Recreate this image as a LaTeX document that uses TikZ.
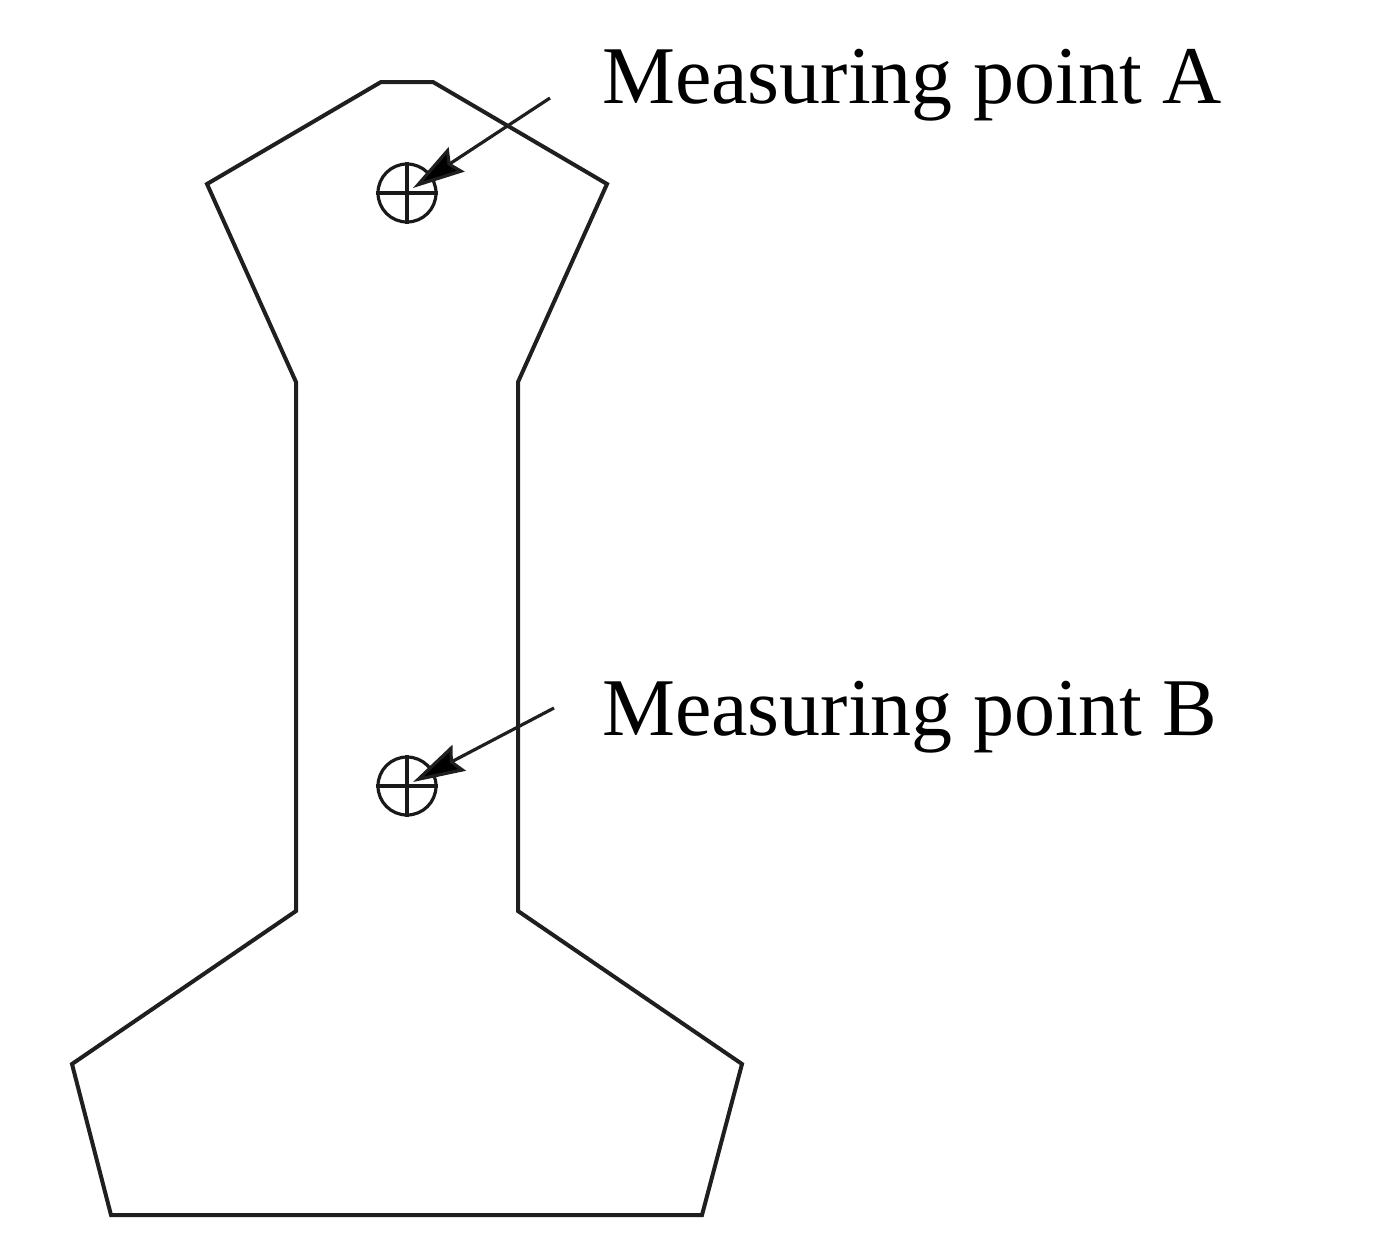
\documentclass[tikz,border=0pt]{standalone}
\usepackage{fontspec}
\usepackage{tikz}
\setmainfont{Liberation Serif}
\usetikzlibrary{arrows.meta, positioning, calc}

\tikzset{
  outline/.style={draw=black!88, line width=4pt, line join=miter},
  target/.style={draw=black!90, circle, line width=3.2pt, minimum size=58pt, inner sep=0pt},
  hair/.style={draw=black!90, line width=3.2pt},
  pointer/.style={draw=black!88, line width=3.2pt, -{Stealth[length=52pt, width=29pt, inset=7pt, fill=black]}},
  tag/.style={anchor=base west, inner sep=0pt, font=\fontsize{82}{90}\selectfont}
}

\begin{document}
\begin{tikzpicture}[x=1pt, y=-1pt]
\useasboundingbox (0,0) rectangle (1396,1248);
% Section outline
\draw[outline] (381,82) -- (433,82) -- (607,184) -- (518,382) -- (518,911) -- (742,1064) -- (702,1215) -- (111,1215) -- (72,1064) -- (296,911) -- (296,382) -- (207,184) -- cycle;

% Measuring points
\node[target] (ptA) at (407,193) {};
\node[target] (ptB) at (407,786) {};
\draw[hair] (ptA.north) -- (ptA.south);
\draw[hair] (ptA.west) -- (ptA.east);
\draw[hair] (ptB.north) -- (ptB.south);
\draw[hair] (ptB.west) -- (ptB.east);

% Labels
\node[tag] (labA) at (602,103) {Measuring point A};
\node[tag] (labB) at (602,735) {Measuring point B};
\coordinate (startA) at (550,98);
\coordinate (startB) at (554,708);
\coordinate (endA) at (413,188);
\coordinate (endB) at (413,782);

% Arrows
\draw[pointer] (startA) -- (endA);
\draw[pointer] (startB) -- (endB);
\end{tikzpicture}
\end{document}
